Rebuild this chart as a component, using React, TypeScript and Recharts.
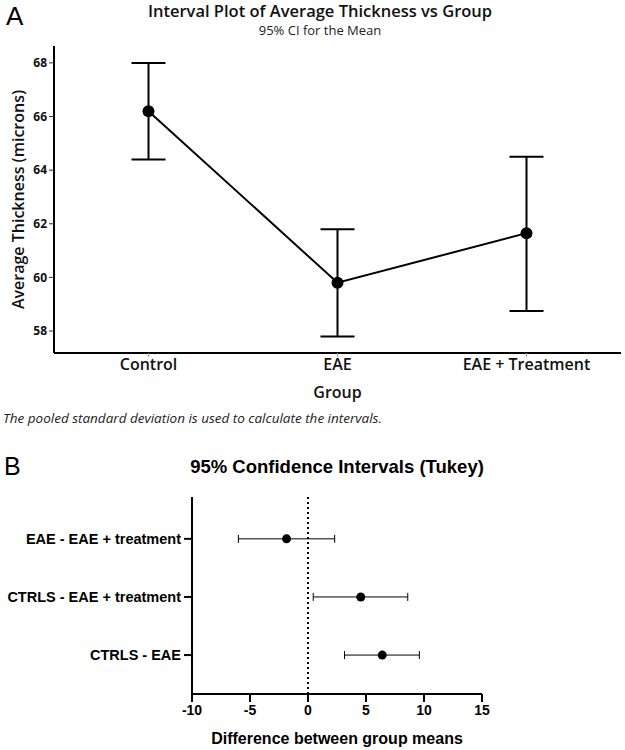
import React from 'react';
import {
  ComposedChart,
  Line,
  Scatter,
  XAxis,
  YAxis,
  ErrorBar,
  ReferenceLine,
} from 'recharts';

// Panel A: interval plot
const groups = ['Control', 'EAE', 'EAE + Treatment'];
const means = [66.2, 59.8, 61.65];
const lower = [64.4, 57.8, 58.75];
const upper = [68.0, 61.8, 64.5];
const yTicksA = [58, 60, 62, 64, 66, 68];

// Panel B: Tukey intervals (listed top to bottom)
const comparisons = ['EAE - EAE + treatment', 'CTRLS - EAE + treatment', 'CTRLS - EAE'];
const diffs = [-1.85, 4.55, 6.4];
const diffLower = [-6.0, 0.45, 3.15];
const diffUpper = [2.3, 8.6, 9.6];
const xTicksB = [-10, -5, 0, 5, 10, 15];

const dataA = groups.map((g, i) => ({
  group: g,
  mean: means[i],
  err: [means[i] - lower[i], upper[i] - means[i]],
}));

const dataB = comparisons.map((c, i) => ({
  row: i + 1,
  name: c,
  diff: diffs[i],
  err: [diffs[i] - diffLower[i], diffUpper[i] - diffs[i]],
}));

const FONT_A = '"Open Sans", "Noto Sans", sans-serif';
const FONT_B = '"Liberation Sans", Arial, sans-serif';

const YTitleA = ({ viewBox }: any) => (
  <text
    x={viewBox.x + 18}
    y={viewBox.y + viewBox.height / 2}
    transform={`rotate(-90, ${viewBox.x + 18}, ${viewBox.y + viewBox.height / 2})`}
    textAnchor="middle"
    dominantBaseline="central"
    fontFamily={FONT_A}
    fontSize={16}
    fontWeight={600}
    fill="#111"
  >
    Average Thickness (microns)
  </text>
);

const XTitleA = ({ viewBox }: any) => (
  <text
    x={viewBox.x + viewBox.width / 2}
    y={viewBox.y + 39}
    textAnchor="middle"
    dominantBaseline="central"
    fontFamily={FONT_A}
    fontSize={16}
    fontWeight={600}
    fill="#111"
  >
    Group
  </text>
);

const XTitleB = ({ viewBox }: any) => (
  <text
    x={viewBox.x + viewBox.width / 2}
    y={viewBox.y + 44}
    textAnchor="middle"
    dominantBaseline="central"
    fontFamily={FONT_B}
    fontSize={16}
    fontWeight={700}
    fill="#000"
  >
    Difference between group means
  </text>
);

const Dot = (props: any) => <circle cx={props.cx} cy={props.cy} r={4.5} fill="#000" />;

export default function App() {
  return (
    <div style={{ position: 'absolute', left: 0, top: 0, width: 625, height: 750, background: '#fff' }}>
      <div style={{ position: 'absolute', left: 6, top: 1, fontFamily: FONT_B, fontSize: 26, color: '#000', lineHeight: '30px' }}>A</div>
      <div
        style={{
          position: 'absolute', left: 120, width: 400, top: 0, textAlign: 'center',
          fontFamily: FONT_A, fontSize: 16.5, fontWeight: 600, color: '#111', lineHeight: '21px',
        }}
      >
        Interval Plot of Average Thickness vs Group
      </div>
      <div
        style={{
          position: 'absolute', left: 120, width: 400, top: 23, textAlign: 'center',
          fontFamily: FONT_A, fontSize: 13, color: '#222', lineHeight: '15px',
        }}
      >
        95% CI for the Mean
      </div>

      <div style={{ position: 'absolute', left: 0, top: 0 }}>
        <ComposedChart width={625} height={420} data={dataA} margin={{ top: 46, right: 4, bottom: 0, left: 0 }}>
          <XAxis
            dataKey="group"
            height={67}
            padding={{ left: 94.5, right: 94.5 }}
            tickSize={4}
            tickLine={{ stroke: '#999' }}
            axisLine={{ stroke: '#000', strokeWidth: 2 }}
            tick={{ fill: '#111', fontFamily: FONT_A, fontSize: 16, fontWeight: 600 }}
            label={{ content: XTitleA }}
          />
          <XAxis xAxisId="top" orientation="top" dataKey="group" height={0} tick={false} tickLine={false} axisLine={{ stroke: '#000', strokeWidth: 2 }} />
          <YAxis
            width={54}
            domain={[57.18, 68.63]}
            ticks={yTicksA}
            allowDataOverflow
            tickSize={5}
            tickMargin={2}
            tickLine={{ stroke: '#333' }}
            axisLine={{ stroke: '#000', strokeWidth: 2 }}
            tick={{ fill: '#111', fontFamily: FONT_A, fontSize: 12, fontWeight: 700 }}
            label={{ content: YTitleA }}
          />
          <YAxis yAxisId="right" orientation="right" width={0} domain={[57.18, 68.63]} tick={false} tickLine={false} axisLine={{ stroke: '#000', strokeWidth: 2 }} />
          <Line
            dataKey="mean"
            stroke="#000"
            strokeWidth={2}
            dot={{ r: 6, fill: '#000', stroke: '#000', strokeWidth: 0 }}
            activeDot={false}
            isAnimationActive={false}
          >
            <ErrorBar dataKey="err" width={17} stroke="#000" strokeWidth={2} direction="y" />
          </Line>
        </ComposedChart>
      </div>

      <div
        style={{
          position: 'absolute', left: 3, top: 409, fontFamily: FONT_A, fontSize: 13.5,
          fontStyle: 'italic', color: '#222', lineHeight: '18px',
        }}
      >
        The pooled standard deviation is used to calculate the intervals.
      </div>

      <div style={{ position: 'absolute', left: 4, top: 452, fontFamily: FONT_B, fontSize: 25, color: '#000', lineHeight: '28px' }}>B</div>
      <div
        style={{
          position: 'absolute', left: 137, width: 400, top: 455, textAlign: 'center',
          fontFamily: FONT_B, fontSize: 18.5, fontWeight: 700, color: '#000', lineHeight: '24px',
        }}
      >
        95% Confidence Intervals (Tukey)
      </div>

      <div style={{ position: 'absolute', left: 0, top: 440 }}>
        <ComposedChart width={625} height={310} data={dataB} margin={{ top: 57, right: 143, bottom: 0, left: 0 }}>
          <XAxis
            type="number"
            dataKey="diff"
            domain={[-10, 15]}
            ticks={xTicksB}
            allowDataOverflow
            height={56}
            tickSize={8}
            tickMargin={3}
            tickLine={{ stroke: '#000', strokeWidth: 2 }}
            axisLine={{ stroke: '#000', strokeWidth: 2 }}
            tick={{ fill: '#000', fontFamily: FONT_B, fontSize: 14, fontWeight: 700 }}
            label={{ content: XTitleB }}
          />
          <YAxis
            type="number"
            dataKey="row"
            reversed
            domain={[0.28, 3.67]}
            ticks={[1, 2, 3]}
            allowDataOverflow
            width={192}
            tickSize={8}
            tickMargin={3}
            tickFormatter={(v: number) => comparisons[v - 1]}
            tickLine={{ stroke: '#000', strokeWidth: 2 }}
            axisLine={{ stroke: '#000', strokeWidth: 2 }}
            tick={{ fill: '#000', fontFamily: FONT_B, fontSize: 14.5, fontWeight: 700 }}
          />
          <ReferenceLine x={0} stroke="#000" strokeWidth={2} strokeDasharray="2 3" />
          <Scatter data={dataB} shape={Dot} isAnimationActive={false}>
            <ErrorBar dataKey="err" direction="x" width={4} stroke="#000" strokeWidth={1} />
          </Scatter>
        </ComposedChart>
      </div>
    </div>
  );
}
